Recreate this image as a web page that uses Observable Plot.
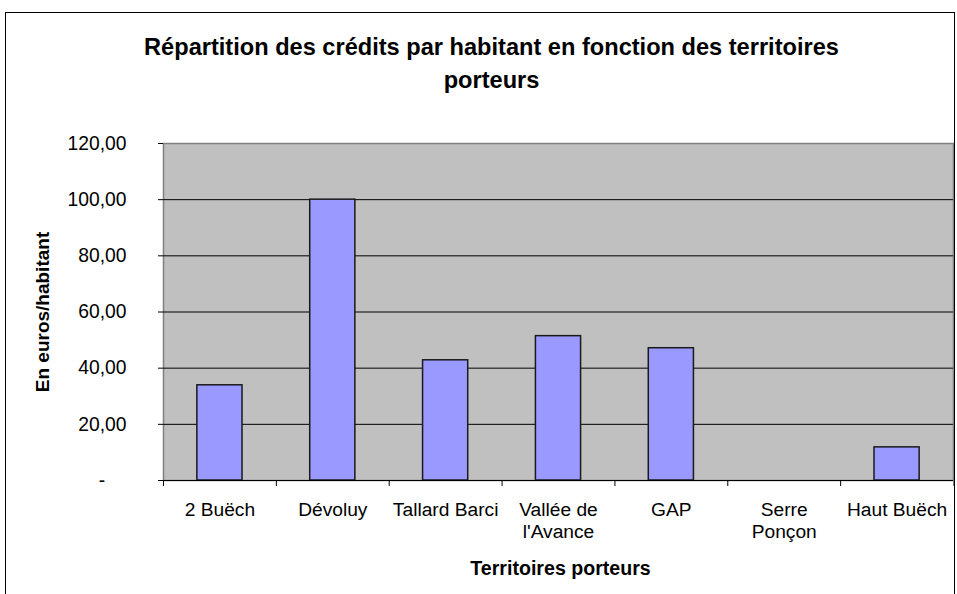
<!DOCTYPE html>
<html>
<head>
<meta charset="utf-8">
<script src="https://cdn.jsdelivr.net/npm/d3@7"></script>
<script src="https://cdn.jsdelivr.net/npm/@observablehq/plot@0.6"></script>
<style>
  html, body { margin: 0; padding: 0; background: #fff; overflow: hidden; }
  #wrap { position: relative; width: 957px; height: 594px; }
  #border { position: absolute; left: 5px; top: 12px; width: 950px; height: 620px;
            border: 1.5px solid #000; box-sizing: border-box; pointer-events: none; }
</style>
</head>
<body>
<div id="wrap"><div id="border"></div></div>
<script>
const categories = ["2 Buëch", "Dévoluy", "Tallard Barci", "Vallée de l'Avance", "GAP", "Serre Ponçon", "Haut Buëch"];
const tickLabels = ["2 Buëch", "Dévoluy", "Tallard Barci", "Vallée de\nl'Avance", "GAP", "Serre\nPonçon", "Haut Buëch"];
const values = [33.9, 100, 42.8, 51.4, 47.1, 0, 11.8];
const yTicks = [0, 20, 40, 60, 80, 100, 120];
const yTickLabels = ["-\u2007\u2007", "20,00", "40,00", "60,00", "80,00", "100,00", "120,00"];
const title = "Répartition des crédits par habitant en fonction des territoires\nporteurs";
const xTitle = "Territoires porteurs";
const yTitle = "En euros/habitant";

const data = categories.map((c, i) => ({cat: c, val: values[i]}));

const W = 957, H = 594, mL = 163, mR = 4, mT = 143, mB = 114;
const step = (W - mL - mR) / categories.length;
const font = "Arial, 'Liberation Sans', sans-serif";

const chart = Plot.plot({
  width: W, height: H,
  marginLeft: mL, marginRight: mR, marginTop: mT, marginBottom: mB,
  style: {fontFamily: font, color: "#000", background: "transparent", overflow: "visible"},
  x: {domain: categories, paddingInner: 0.6, paddingOuter: 0.3, round: false, label: null},
  y: {domain: [0, 120], label: null},
  marks: [
    Plot.frame({fill: "#c0c0c0", stroke: "#808080", strokeWidth: 1.5}),
    Plot.ruleY(yTicks.filter(d => d > 0 && d < 120), {stroke: "#000", strokeWidth: 1}),
    Plot.barY(data, {x: "cat", y: "val", fill: "#9999ff", stroke: "#1a1a1a", strokeWidth: 1.5}),
    Plot.ruleY([0], {stroke: "#000", strokeWidth: 1.2}),
    Plot.axisY({ticks: yTicks, tickFormat: d => yTickLabels[yTicks.indexOf(d)], tickSize: 5,
                tickPadding: 32, fontSize: 19.3, label: null, stroke: "#000"}),
    Plot.ruleX([0], {frameAnchor: "left", stroke: "#000", strokeWidth: 1.5}),
    Plot.axisX({tickSize: 6, tickFormat: null, dx: -step / 2, label: null, stroke: "#000"}),
    Plot.axisX({ticks: [categories[categories.length - 1]], tickSize: 6, tickFormat: null, dx: step / 2, label: null, stroke: "#808080"}),
    Plot.axisX({tickSize: 0, tickPadding: 20, tickFormat: d => tickLabels[categories.indexOf(d)],
                fontSize: 19.2, lineHeight: 1.15, label: null}),
    Plot.text([title], {text: d => d, frameAnchor: "top", dx: -67, dy: -83, lineAnchor: "middle",
                        lineHeight: 1.4, fontSize: 23.6, fontWeight: "bold", fill: "#000"}),
    Plot.text([xTitle], {text: d => d, frameAnchor: "bottom", dx: 2, dy: 88, lineAnchor: "middle",
                         fontSize: 19.6, fontWeight: "bold", fill: "#000"}),
    Plot.text([yTitle], {text: d => d, frameAnchor: "left", dx: -121, rotate: -90, textAnchor: "middle",
                         lineAnchor: "middle", fontSize: 19, fontWeight: "bold", fill: "#000"})
  ]
});
document.getElementById("wrap").prepend(chart);
chart.style.position = "absolute";
chart.style.left = "0";
chart.style.top = "0";
</script>
</body>
</html>
